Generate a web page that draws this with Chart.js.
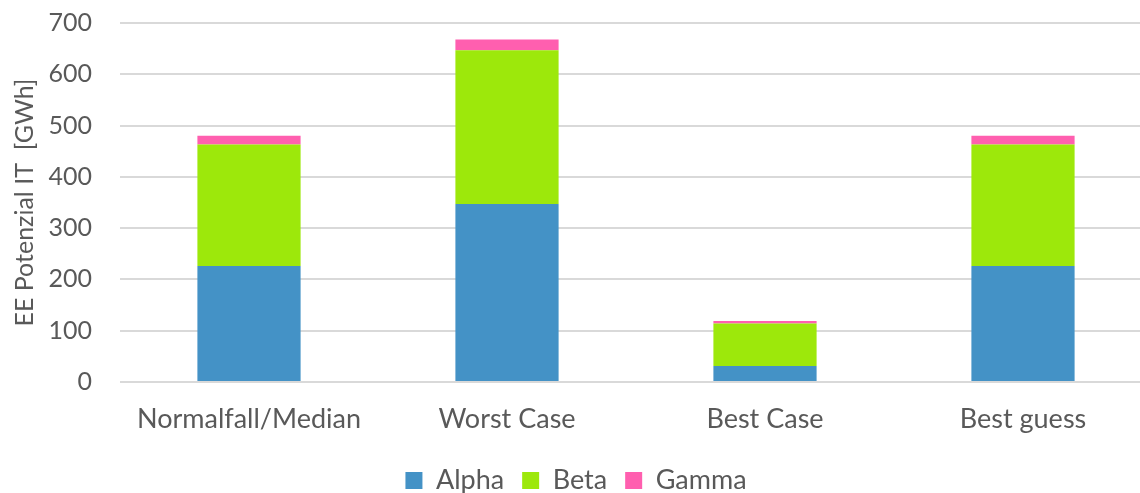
<!DOCTYPE html>
<html>
<head>
<meta charset="utf-8">
<script src="https://cdn.jsdelivr.net/npm/chart.js@4/dist/chart.umd.min.js"></script>
<style>
  html, body { margin: 0; padding: 0; background: #fff; overflow: hidden; }
  #wrap { width: 1152px; height: 504px; }
</style>
</head>
<body>
<div id="wrap"><canvas id="grafico"></canvas></div>
<script>
// datos
var categorias = ['Normalfall/Median', 'Worst Case', 'Best Case', 'Best guess'];
var alpha = [226, 347, 31, 226];
var beta = [237, 300, 83, 237];
var gamma = [17, 21, 5, 17];
var ticksY = [0, 100, 200, 300, 400, 500, 600, 700];

var gris = '#595959';
var fuente = 'Lato, "Open Sans", sans-serif';

var ctx = document.getElementById('grafico').getContext('2d');
var myChart = new Chart(ctx, {
    type: 'bar',
    data: {
        labels: categorias,
        datasets: [
            { label: 'Alpha', data: alpha, backgroundColor: '#4492C6' },
            { label: 'Beta', data: beta, backgroundColor: '#9DE80B' },
            { label: 'Gamma', data: gamma, backgroundColor: '#FF5FAF' }
        ]
    },
    options: {
        responsive: true,
        maintainAspectRatio: false,
        animation: false,
        datasets: {
            bar: { barPercentage: 0.4, categoryPercentage: 1.0 }
        },
        layout: { padding: { top: 23, bottom: 0, left: 0, right: 0 } },
        plugins: {
            tooltip: { enabled: false },
            legend: {
                position: 'bottom',
                labels: {
                    color: gris,
                    font: { family: fuente, size: 27 },
                    boxWidth: 17,
                    boxHeight: 17,
                    padding: 18
                }
            }
        },
        scales: {
            x: {
                stacked: true,
                grid: { display: false, drawTicks: false },
                border: { display: false },
                ticks: { color: gris, font: { family: fuente, size: 27 }, padding: 21 },
                afterFit: function (scale) { scale.height = 67; }
            },
            y: {
                stacked: true,
                min: 0,
                max: 700,
                afterBuildTicks: function (scale) {
                    scale.ticks = ticksY.map(function (v) { return { value: v }; });
                },
                grid: { color: '#d9d9d9', lineWidth: 2, drawTicks: false },
                border: { display: false },
                ticks: { color: gris, font: { family: fuente, size: 25 }, padding: 28 },
                title: {
                    display: true,
                    text: 'EE Potenzial IT  [GWh]',
                    color: gris,
                    font: { family: fuente, size: 25 },
                    padding: { top: 10, bottom: 0 }
                },
                afterFit: function (scale) {
                    scale.width = 120;
                    scale.paddingTop = 0;
                    scale.paddingBottom = 0;
                }
            }
        }
    }
});
</script>
</body>
</html>
